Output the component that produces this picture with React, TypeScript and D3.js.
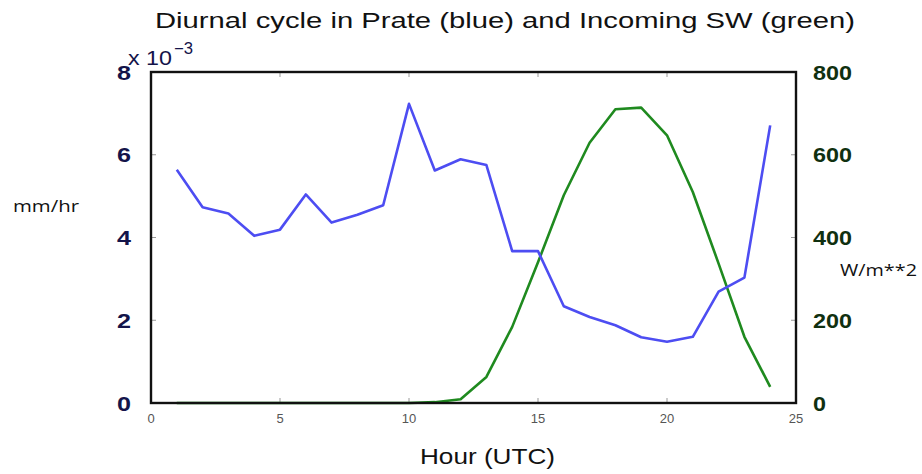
import { useEffect, useRef } from 'react'
import * as d3 from 'd3'

const hours = [1, 2, 3, 4, 5, 6, 7, 8, 9, 10, 11, 12, 13, 14, 15, 16, 17, 18, 19, 20, 21, 22, 23, 24]
// precip rate, units of 1e-3 mm/hr
const prate = [5.64, 4.73, 4.58, 4.04, 4.19, 5.04, 4.36, 4.55, 4.78, 7.23, 5.62, 5.89, 5.75, 3.67, 3.67, 2.34, 2.08, 1.88, 1.59, 1.48, 1.6, 2.69, 3.03, 6.71]
// incoming shortwave, W/m**2
const swdown = [0, 0, 0, 0, 0, 0, 0, 0, 0, 0, 2, 9, 63, 184, 340, 502, 629, 710, 714, 647, 510, 337, 160, 39]

const xTicks = [0, 5, 10, 15, 20, 25]
const leftTicks = [0, 2, 4, 6, 8]
const rightTicks = [0, 200, 400, 600, 800]

export default function App() {
  const svgRef = useRef<SVGSVGElement>(null)

  useEffect(() => {
    if (!svgRef.current) return
    const svg = d3.select(svgRef.current)
    svg.selectAll('*').remove()

    const margin = { top: 72, right: 126, bottom: 71, left: 151 }
    const W = 922, H = 474
    const width = W - margin.left - margin.right
    const height = H - margin.top - margin.bottom
    const font = 'Liberation Sans, Arial, sans-serif'
    const labelFont = '"Open Sans", "DejaVu Sans", sans-serif'

    const x = d3.scaleLinear().domain([0, 25]).range([0, width])
    const yL = d3.scaleLinear().domain([0, 8]).range([height, 0])
    const yR = d3.scaleLinear().domain([0, 800]).range([height, 0])

    const g = svg.append('g').attr('transform', `translate(${margin.left},${margin.top})`)

    // small inward ticks
    const tickColor = '#999'
    xTicks.slice(1, -1).forEach(t => {
      g.append('line').attr('x1', x(t)).attr('x2', x(t)).attr('y1', height).attr('y2', height - 5).attr('stroke', tickColor)
      g.append('line').attr('x1', x(t)).attr('x2', x(t)).attr('y1', 0).attr('y2', 5).attr('stroke', tickColor)
    })
    leftTicks.slice(1, -1).forEach(t => {
      g.append('line').attr('x1', 0).attr('x2', 5).attr('y1', yL(t)).attr('y2', yL(t)).attr('stroke', tickColor)
    })
    rightTicks.slice(1, -1).forEach(t => {
      g.append('line').attr('x1', width).attr('x2', width - 5).attr('y1', yR(t)).attr('y2', yR(t)).attr('stroke', tickColor)
    })

    const idx = d3.range(hours.length)
    const lineL = d3.line<number>().x(i => x(hours[i])).y(i => yL(prate[i]))
    const lineR = d3.line<number>().x(i => x(hours[i])).y(i => yR(swdown[i]))

    g.append('path').datum(idx).attr('fill', 'none').attr('stroke', '#1f8a1f')
      .attr('stroke-width', 2.6).attr('stroke-linejoin', 'round').attr('d', lineR)
    g.append('path').datum(idx).attr('fill', 'none').attr('stroke', '#4d4df2')
      .attr('stroke-width', 2.6).attr('stroke-linejoin', 'round').attr('d', lineL)

    g.append('rect').attr('x', 0).attr('y', 0).attr('width', width).attr('height', height)
      .attr('fill', 'none').attr('stroke', '#111').attr('stroke-width', 2.4)

    // x tick labels
    xTicks.forEach(t => {
      g.append('text').attr('x', x(t)).attr('y', height + 20)
        .attr('text-anchor', 'middle').style('font-family', font).style('font-size', '13px')
        .style('fill', '#555').text(t)
    })

    // left tick labels
    leftTicks.forEach(t => {
      g.append('text').attr('x', -20).attr('y', yL(t)).attr('dy', '0.36em')
        .attr('text-anchor', 'end').style('font-family', font).style('font-size', '21px')
        .style('font-weight', 'bold').style('fill', '#14144a')
        .attr('textLength', 14).attr('lengthAdjust', 'spacingAndGlyphs').text(t)
    })
    // exponent
    svg.append('text').attr('x', 128).attr('y', 65)
      .style('font-family', font).style('font-size', '20px').style('fill', '#14144a')
      .attr('textLength', 44).attr('lengthAdjust', 'spacingAndGlyphs').text('x 10')
    svg.append('text').attr('x', 174).attr('y', 54)
      .style('font-family', font).style('font-size', '16px').style('fill', '#14144a')
      .attr('textLength', 19).attr('lengthAdjust', 'spacingAndGlyphs').text('\u22123')

    // right tick labels
    rightTicks.forEach(t => {
      g.append('text').attr('x', width + 17).attr('y', yR(t)).attr('dy', '0.36em')
        .attr('text-anchor', 'start').style('font-family', font).style('font-size', '21px')
        .style('font-weight', 'bold').style('fill', '#103010')
        .attr('textLength', String(t).length * 13).attr('lengthAdjust', 'spacingAndGlyphs').text(t)
    })

    svg.append('text').attr('x', 155).attr('y', 28)
      .style('font-family', font).style('font-size', '22px').style('fill', '#111')
      .attr('textLength', 700).attr('lengthAdjust', 'spacingAndGlyphs')
      .text('Diurnal cycle in Prate (blue) and Incoming SW (green)')

    svg.append('text').attr('x', 420).attr('y', 464)
      .style('font-family', font).style('font-size', '22px').style('fill', '#111')
      .attr('textLength', 135).attr('lengthAdjust', 'spacingAndGlyphs')
      .text('Hour (UTC)')

    svg.append('text').attr('x', 13).attr('y', 212)
      .style('font-family', labelFont).style('font-size', '17px').style('fill', '#111')
      .attr('textLength', 66).attr('lengthAdjust', 'spacingAndGlyphs')
      .text('mm/hr')

    svg.append('text').attr('x', 840).attr('y', 276)
      .style('font-family', labelFont).style('font-size', '17px').style('fill', '#111')
      .attr('textLength', 77).attr('lengthAdjust', 'spacingAndGlyphs')
      .text('W/m**2')
  }, [])

  return (
    <div style={{ position: 'absolute', left: 0, top: 0 }}>
      <svg ref={svgRef} width={922} height={474} style={{ display: 'block', background: '#fff' }} />
    </div>
  )
}
